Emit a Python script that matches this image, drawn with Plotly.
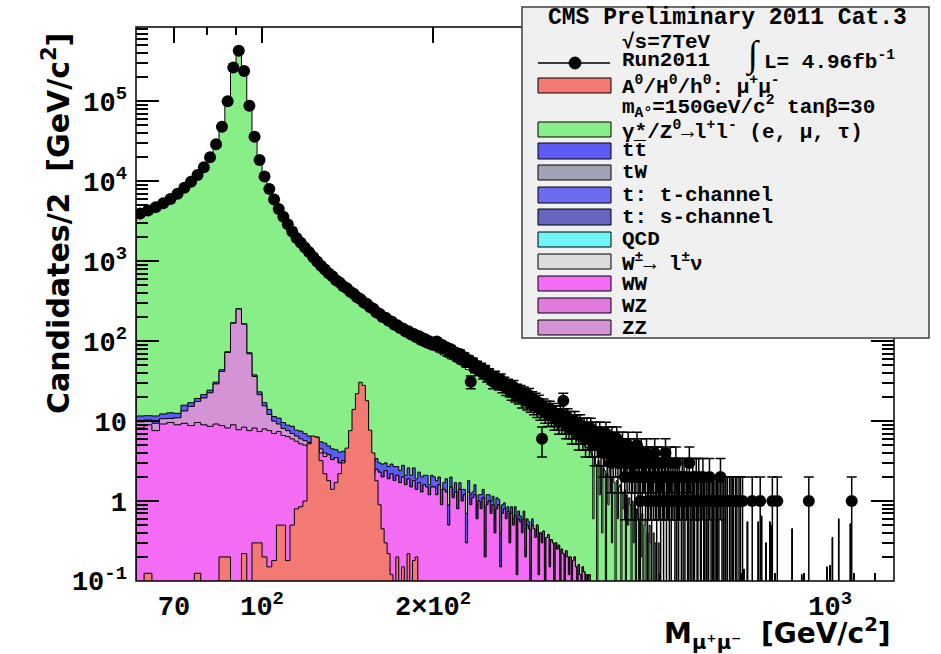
import numpy as np
import plotly.graph_objects as go

# ---------------------------------------------------------------------------
# Binning: 2 GeV bins in dimuon invariant mass
# ---------------------------------------------------------------------------
BIN = 2.0
M_LO, M_HI = 60.0, 1300.0
edges = np.arange(M_LO, M_HI + BIN, BIN)
centers = 0.5 * (edges[:-1] + edges[1:])
NB = len(centers)
FLOOR = 1e-3  # below the visible y range, used for empty bins

# ---------------------------------------------------------------------------
# Observed candidates per 2 GeV bin
# ---------------------------------------------------------------------------
data_60_200 = [
    3950, 4300, 4750, 5300, 6000, 7000, 8300, 9900, 12000, 15000,
    20000, 29000, 48000, 100000, 265000, 430000, 240000, 88000, 36000, 18500,
    11500, 8000, 5900, 4500, 3600, 2900, 2350, 1950, 1700, 1480,
    1300, 1130, 990, 880, 790, 705, 650, 580, 540, 485,
    460, 415, 392, 355, 338, 305, 292, 266, 254, 228,
    221, 200, 197, 180, 176, 160, 158, 146, 144, 132,
    133, 121, 123, 112, 115, 103, 107, 96, 100, 91,
]
data_200_400 = [
    93, 99, 86, 90, 81, 84, 74, 79, 70, 72,
    64, 69, 60, 63, 55, 58, 31, 54, 47, 49,
    44, 46, 40, 43, 37, 39, 35, 31, 36, 32,
    30, 33, 28, 30, 26, 28, 25, 23, 27, 22,
    24, 21, 23, 19, 22, 20, 18, 21, 17, 19,
    16, 18, 15, 17, 14, 6, 15, 13, 14, 12,
    14, 12, 13, 11, 12, 11, 10, 12, 10, 18,
    10, 9, 11, 9, 10, 8, 9, 10, 8, 9,
    7, 9, 8, 7, 8, 6, 8, 7, 6, 8,
    6, 7, 5, 7, 6, 5, 7, 5, 6, 4,
]
data_400_704 = [
    5, 7, 4, 6, 5, 3, 6, 4, 5, 4, 6, 3, 5, 4, 3, 5, 4, 2, 4, 3, 5, 3, 4, 2, 3,
    4, 2, 3, 5, 2, 3, 1, 4, 2, 3, 3, 2, 4, 1, 2, 3, 2, 1, 3, 2, 4, 2, 1, 3, 2,
    2, 1, 3, 2, 1, 2, 4, 1, 2, 2, 1, 3, 1, 2, 0, 2, 1, 3, 1, 2, 1, 2, 0, 1, 2,
    1, 2, 1, 0, 2, 1, 1, 3, 1, 0, 1, 2, 1, 1, 0, 2, 1, 1, 2, 0, 1, 1, 0, 2, 1,
    1, 0, 1, 1, 0, 1, 2, 0, 1, 0, 1, 1, 0, 1, 0, 1, 1, 0, 1, 0, 2, 0, 1, 0, 1,
    0, 1, 1, 0, 1, 0, 0, 1, 0, 1, 0, 1, 1, 0, 0, 1, 0, 1, 0, 0, 1, 0, 1, 0, 0, 1, 0,
]
data_single_events = [728, 752, 790, 806, 916, 1091]  # isolated bins with 1 candidate

# ---------------------------------------------------------------------------
# Simulated backgrounds (per 2 GeV bin)
# ---------------------------------------------------------------------------
dy_60_200 = [
    3800, 4150, 4600, 5100, 5800, 6700, 8000, 9500, 11600, 14500,
    19500, 28000, 46000, 96000, 255000, 420000, 235000, 86000, 35000, 17800,
    11000, 7700, 5700, 4350, 3450, 2750, 2220, 1840, 1590, 1380,
    1200, 1040, 910, 805, 720, 645, 580, 527, 482, 442,
    400, 368, 340, 314, 290, 268, 249, 232, 216, 202,
    189, 177, 167, 157, 149, 141, 134, 127, 121, 115,
    110, 105, 100, 96, 92, 88, 85, 82, 79, 76,
]
dy_200_300 = [
    74, 71, 69, 66, 63, 61, 59, 57, 55, 53,
    51, 49, 47, 45.5, 43.5, 42, 40.5, 39, 37.5, 36,
    35, 33.8, 32.6, 31.4, 30.2, 29.5, 28.4, 27.4, 26.5, 25.6,
    25, 24, 23.2, 22.5, 21.8, 21.5, 20.6, 20, 19.3, 18.7,
    18.3, 17.6, 17.2, 16.6, 16.2, 16, 15.4, 15, 14.6, 14.2,
]
dy_300_380 = [
    14, 13.5, 13.1, 12.6, 12.2, 11.8, 11.4, 11, 10.7, 10.3,
    10, 9.7, 9.4, 9.1, 8.8, 8.6, 8.3, 8.1, 7.8, 7.6,
    7.4, 7.2, 7.0, 6.8, 6.6, 6.4, 6.2, 6.0, 5.9, 5.7,
    5.5, 5.4, 5.2, 5.0, 4.9, 4.7, 4.6, 4.4, 4.3, 4.1,
]
dy_380_500 = [
    3.8, 0.6, 3.5, 2.9, 0, 3.2, 1.2, 2.8, 0.4, 2.6,
    2.4, 0, 2.2, 0.9, 2.5, 1.9, 0.3, 2.0, 1.7, 0,
    1.8, 0.6, 1.5, 1.6, 0, 1.3, 0.8, 1.4, 0, 1.2,
    0.5, 1.1, 0.9, 0, 1.0, 0.3, 0.9, 0, 0.8, 0.7,
    0, 0.6, 0.2, 0.7, 0, 0.5, 0.6, 0, 0.4, 0,
    0.5, 0.3, 0, 0, 0.4, 0, 0.3, 0, 0, 0.3,
]
ww_60_200 = [
    8.2, 9.0, 7.6, 9.2, 9.6, 9.0, 9.4, 8.8, 9.6, 9.0,
    8.6, 9.2, 8.8, 8.2, 9.0, 7.8, 8.4, 7.6, 8.2, 7.4,
    8.0, 7.6, 7.0, 7.4, 6.6, 6.4, 6.0, 5.6, 5.2, 5.0,
    4.8, 4.4, 4.6, 4.0, 3.6, 3.8, 3.3, 3.5, 3.0, 3.2,
    2.8, 3.0, 2.6, 2.8, 2.4, 2.8, 2.4, 2.6, 2.2, 2.5,
    2.3, 2.0, 2.4, 1.9, 2.2, 1.8, 2.1, 1.7, 2.0, 1.6,
    1.9, 1.5, 1.8, 1.4, 1.7, 1.3, 1.6, 1.5, 1.2, 1.5,
]
ww_200_300 = [
    1.5, 1.2, 1.6, 0.9, 1.4, 1.3, 0.5, 1.5, 1.1, 1.3,
    0.8, 1.4, 1.0, 1.2, 0.3, 1.3, 0.9, 1.1, 1.2, 0.6,
    1.0, 0.8, 1.1, 0.2, 0.9, 1.0, 0.7, 0.9, 0.4, 0.8,
    0.9, 0.15, 0.7, 0.8, 0.6, 0.75, 0.3, 0.7, 0.5, 0.65,
    0.12, 0.6, 0.55, 0.4, 0.6, 0.2, 0.5, 0.45, 0.1, 0.5,
]
ww_300_380 = [
    0.45, 0.35, 0.5, 0.12, 0.4, 0.3, 0.42, 0, 0.35, 0.38,
    0.15, 0.33, 0.3, 0, 0.3, 0.25, 0.28, 0.1, 0.25, 0.22,
    0, 0.24, 0.2, 0.12, 0.2, 0, 0.18, 0.2, 0.15, 0,
    0.16, 0.12, 0, 0.15, 0.13, 0, 0.12, 0, 0.12, 0,
]
diboson_60_130 = [
    1.6, 1.3, 1.8, 1.5, 1.2, 2.0, 4.0, 6.5, 8.0, 10.5,
    14.0, 20.0, 33.0, 64.0, 159.0, 245.0, 155.0, 62.0, 28.0, 14.0,
    7.5, 4.5, 3.0, 1.8, 1.5, 1.2, 1.0, 0.9, 0.8, 0.7,
    0.6, 0.6, 0.5, 0.5, 0.4,
]
top_60_200 = [
    1.8, 1.4, 2.2, 1.6, 1.9, 1.5, 2.4, 1.7, 1.6, 2.0,
    1.8, 1.5, 2.1, 1.6, 1.9, 1.7, 1.5, 2.0, 1.6, 1.8,
    1.5, 1.9, 1.4, 1.7, 1.5, 1.3, 1.6, 1.2, 1.5, 1.3,
    1.1, 1.4, 1.2, 1.0, 1.3, 1.1, 1.2, 0.9, 1.1, 1.0,
    1.2, 0.9, 1.0, 0.8, 1.1, 0.9, 0.7, 1.0, 0.8, 0.9,
    0.7, 0.9, 0.6, 0.8, 0.7, 0.9, 0.6, 0.7, 0.8, 0.5,
    0.7, 0.6, 0.8, 0.5, 0.6, 0.7, 0.5, 0.6, 0.4, 0.6,
]
top_200_300 = [
    0.5, 0.6, 0.4, 0.5, 0.3, 0.6, 0.4, 0.5, 0.3, 0.4,
    0.5, 0.3, 0.4, 0.2, 0.4, 0.5, 0.3, 0.2, 0.4, 0.3,
    0.2, 0.4, 0.3, 0.2, 0.3, 0.2, 0.3, 0.25, 0.2, 0.3,
    0.15, 0.25, 0.2, 0.15, 0.2, 0.1, 0.2, 0.15, 0.1, 0.2,
    0.1, 0.15, 0.1, 0.1, 0.15, 0.05, 0.1, 0.1, 0.05, 0.1,
]
tail_mc_masses = [704, 714, 746, 756, 770, 782, 786, 856, 890, 986, 1008, 1034, 1084]
tail_mc_values = [0.14, 0.55, 0.55, 0.65, 0.3, 0.55, 0.5, 0.45, 0.12, 0.15, 0.35, 0.6, 0.52]

# MSSM signal A0/H0/h0 -> mu mu, mA = 150 GeV, tan(beta) = 30
signal_60_190 = [
    0, 0.125, 0, 0, 0, 0, 0, 0, 0.125, 0,
    0, 0, 0.2, 0.2, 0, 0, 0.22, 0, 0.3, 0.3,
    0.2, 0.15, 0.18, 0.5, 0.5, 0.18, 0.5, 0.8, 0.85, 1.0,
    5.2, 6.5, 6.3, 3.2, 2.2, 1.8, 1.4, 1.7, 2.2, 3.0,
    4.6, 7.6, 14, 22, 30.6, 28, 18, 7.7, 4.0, 1.8,
    0.9, 0.45, 0.3, 0.22, 0.12, 0, 0.2, 0, 0.15, 0,
    0.22, 0, 0.18, 0.2, 0,
]

# ---------------------------------------------------------------------------
# Colours
# ---------------------------------------------------------------------------
C_SIG = "#f27a72"
C_DY = "#88ee88"
C_TT = "#5c5cf2"
C_TW = "#a2a2b6"
C_TCH = "#6c6cf0"
C_SCH = "#6666c2"
C_QCD = "#70f6f6"
C_WJ = "#dcdcdc"
C_WW = "#f46cf4"
C_WZ = "#e07ae0"
C_ZZ = "#d493d4"


def fill_bins(*segments):
    arr = np.zeros(NB)
    for start, vals in segments:
        i0 = int(round((start - M_LO) / BIN))
        arr[i0:i0 + len(vals)] = vals
    return arr


def bin_index(m):
    return int((m - M_LO) // BIN)


data = fill_bins((60, data_60_200), (200, data_200_400), (400, data_400_704))
for m in data_single_events:
    data[bin_index(m)] = 1

dy = fill_bins((60, dy_60_200), (200, dy_200_300), (300, dy_300_380), (380, dy_380_500))
ww = fill_bins((60, ww_60_200), (200, ww_200_300), (300, ww_300_380))
diboson = fill_bins((60, diboson_60_130))
top = fill_bins((60, top_60_200), (200, top_200_300))
for m, v in zip(tail_mc_masses, tail_mc_values):
    top[bin_index(m)] += v
signal = fill_bins((60, signal_60_190))

# stacked cumulative heights
stack_ww = ww
stack_vv = stack_ww + diboson
stack_top = stack_vv + top
stack_all = stack_top + dy


def step_polygon(vals):
    v = np.where(vals > 0, vals, FLOOR)
    xs = np.repeat(edges, 2)[1:-1]
    ys = np.repeat(v, 2)
    xs = np.concatenate([[edges[0]], xs, [edges[-1]]])
    ys = np.concatenate([[FLOOR], ys, [FLOOR]])
    return xs, ys


fig = go.Figure()
for vals, col in [(stack_all, C_DY), (stack_top, C_TT), (stack_vv, C_ZZ),
                  (stack_ww, C_WW), (signal, C_SIG)]:
    xs, ys = step_polygon(vals)
    fig.add_trace(go.Scatter(
        x=xs, y=ys, mode="lines", fill="toself", fillcolor=col,
        line=dict(color="black", width=1), hoverinfo="skip"))

mask = data > 0
n_obs = data[mask]
err = np.sqrt(n_obs)
err_lo = np.minimum(err, n_obs - FLOOR)
fig.add_trace(go.Scatter(
    x=centers[mask], y=n_obs, mode="markers",
    marker=dict(color="black", size=12, symbol="circle"),
    error_y=dict(type="data", symmetric=False, array=err, arrayminus=err_lo,
                 color="black", thickness=1.5, width=5),
    hoverinfo="skip"))

# ---------------------------------------------------------------------------
# Axes
# ---------------------------------------------------------------------------
L, T, W, H = 136, 27, 758, 554
RIGHT, BOTTOM = 941 - (L + W), 654 - (T + H)

x_major = [70, 100, 200, 1000]
x_major_text = ["70", "10<sup>2</sup>", "2×10<sup>2</sup>", "10<sup>3</sup>"]
x_minor = [60, 80, 90, 300, 400, 500, 600, 700, 800, 900, 1100, 1200]
y_major = [0.1, 1, 10, 100, 1e3, 1e4, 1e5]
y_major_text = ["10<sup>-1</sup>", "1", "10", "10<sup>2</sup>", "10<sup>3</sup>",
                "10<sup>4</sup>", "10<sup>5</sup>"]
y_minor = [k * 10.0 ** d for d in range(-1, 6) for k in range(2, 10)]

tick_font = dict(family="Liberation Mono", size=27, color="black", weight="bold")

fig.update_xaxes(
    type="log", range=[np.log10(60), np.log10(1295)],
    tickmode="array", tickvals=x_major, ticktext=x_major_text,
    ticks="inside", ticklen=16, tickwidth=1.5, tickcolor="black",
    mirror="ticks", showline=False, showgrid=False, zeroline=False,
    tickfont=tick_font, ticklabelstandoff=6, layer="below traces",
    minor=dict(tickmode="array", tickvals=x_minor, ticks="inside",
               ticklen=8, tickwidth=1.5, tickcolor="black", showgrid=False))
fig.update_yaxes(
    type="log", range=[-1.0, 5.93],
    tickmode="array", tickvals=y_major, ticktext=y_major_text,
    ticks="inside", ticklen=23, tickwidth=1.5, tickcolor="black",
    mirror="ticks", showline=False, showgrid=False, zeroline=False,
    tickfont=tick_font, ticklabelstandoff=8, layer="above traces",
    minor=dict(tickmode="array", tickvals=y_minor, ticks="inside",
               ticklen=12, tickwidth=1.5, tickcolor="black", showgrid=False))


def px(x):
    return (x - L) / W


def py(y):
    return (T + H - y) / H


shapes = [
    # plot frame
    dict(type="rect", xref="paper", yref="paper", x0=0, x1=1, y0=0, y1=1,
         line=dict(color="black", width=1.5), fillcolor="rgba(0,0,0,0)", layer="above"),
    # legend box
    dict(type="rect", xref="paper", yref="paper", x0=px(522), x1=px(929),
         y0=py(338), y1=py(7), line=dict(color="#404040", width=1.5),
         fillcolor="#f0f0f0", layer="above"),
    # data marker in the legend
    dict(type="line", xref="paper", yref="paper", x0=px(538), x1=px(610),
         y0=py(63), y1=py(63), line=dict(color="black", width=1.5), layer="above"),
    dict(type="circle", xref="paper", yref="paper", x0=px(569), x1=px(581),
         y0=py(69), y1=py(57), line=dict(color="black", width=1),
         fillcolor="black", layer="above"),
]

swatches = [
    (78, 93, C_SIG), (122, 137, C_DY), (143, 159, C_TT), (165, 180, C_TW),
    (187, 203, C_TCH), (209, 225, C_SCH), (232, 247, C_QCD), (254, 269, C_WJ),
    (276, 291, C_WW), (298, 313, C_WZ), (320, 335, C_ZZ),
]
for top_px, bot_px, col in swatches:
    shapes.append(dict(type="rect", xref="paper", yref="paper",
                       x0=px(538), x1=px(611), y0=py(bot_px), y1=py(top_px),
                       line=dict(color="black", width=1), fillcolor=col, layer="above"))

leg_font = dict(family="Liberation Mono", size=21, color="black", weight="bold")
legend_rows = [
    (620, 42, "√s=7TeV"),
    (620, 61, "Run2011"),
    (762, 61, "L= 4.96fb<sup>-1</sup>"),
    (620, 86, "A<sup>0</sup>/H<sup>0</sup>/h<sup>0</sup>: μ<sup>+</sup>μ<sup>-</sup>"),
    (620, 106, "m<sub>A°</sub>=150GeV/c<sup>2</sup> tanβ=30"),
    (620, 130, "γ*/Z<sup>0</sup>→l<sup>+</sup>l<sup>-</sup> (e, μ, τ)"),
    (620, 151, "tt\u0305"),
    (620, 173, "tW"),
    (620, 195, "t: t-channel"),
    (620, 217, "t: s-channel"),
    (620, 239, "QCD"),
    (620, 262, "W<sup>±</sup>→ l<sup>±</sup>ν"),
    (620, 284, "WW"),
    (620, 306, "WZ"),
    (620, 328, "ZZ"),
]
annotations = [
    dict(x=px(727), y=py(18), xref="paper", yref="paper", text="CMS Preliminary 2011 Cat.3",
         showarrow=False, xanchor="center", yanchor="middle",
         font=dict(family="Liberation Mono", size=23, color="black", weight="bold")),
    dict(x=px(752), y=py(54), xref="paper", yref="paper", text="∫",
         showarrow=False, xanchor="center", yanchor="middle",
         font=dict(family="Liberation Serif", size=37, color="black")),
]
for x0, y0, txt in legend_rows:
    annotations.append(dict(x=px(x0), y=py(y0), xref="paper", yref="paper", text=txt,
                            showarrow=False, xanchor="left", yanchor="middle", font=leg_font))

annotations.append(dict(x=px(57), y=py(224), xref="paper", yref="paper",
                        text="Candidates/2  [GeV/c<sup>2</sup>]", textangle=-90,
                        showarrow=False, xanchor="center", yanchor="middle",
                        font=dict(family="DejaVu Sans", size=30, color="black", weight="bold")))
annotations.append(dict(x=px(893), y=py(633), xref="paper", yref="paper",
                        text="M<sub>μ⁺μ⁻</sub>  [GeV/c<sup>2</sup>]",
                        showarrow=False, xanchor="right", yanchor="middle",
                        font=dict(family="DejaVu Sans", size=28, color="black", weight="bold")))

fig.update_layout(
    width=941, height=654,
    margin=dict(l=L, r=RIGHT, t=T, b=BOTTOM),
    paper_bgcolor="white", plot_bgcolor="white",
    showlegend=False, shapes=shapes, annotations=annotations,
)

fig.write_html("out.html")
